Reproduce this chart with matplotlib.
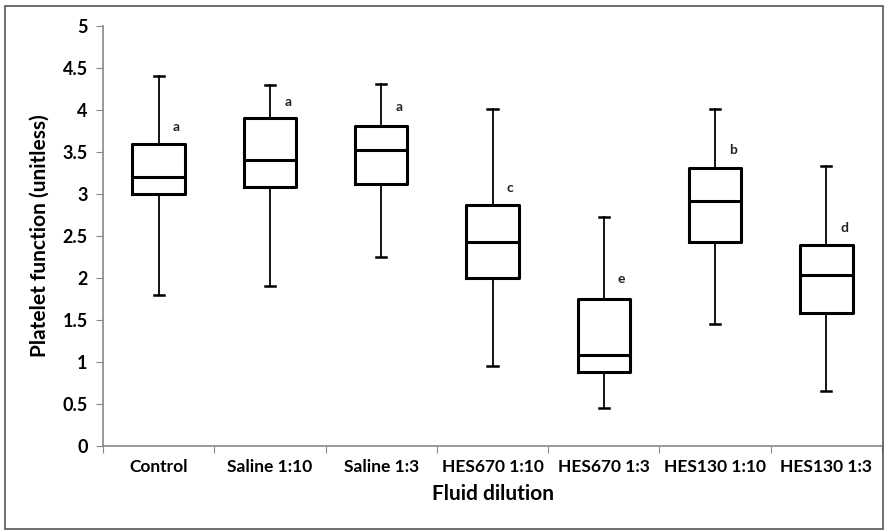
import matplotlib

matplotlib.use("Agg")
import matplotlib.pyplot as plt  # noqa: E402
from matplotlib.patches import Rectangle  # noqa: E402

plt.rcParams["font.family"] = ["Lato", "DejaVu Sans"]

# Box summaries (min, Q1, median, Q3, max)
groups = ["Control", "Saline 1:10", "Saline 1:3", "HES670 1:10",
          "HES670 1:3", "HES130 1:10", "HES130 1:3"]
mins = [1.80, 1.90, 2.25, 0.95, 0.45, 1.45, 0.65]
q1 = [3.00, 3.08, 3.12, 2.00, 0.88, 2.43, 1.58]
medians = [3.20, 3.40, 3.52, 2.43, 1.08, 2.92, 2.03]
q3 = [3.60, 3.90, 3.81, 2.87, 1.75, 3.31, 2.39]
maxs = [4.40, 4.30, 4.31, 4.01, 2.73, 4.01, 3.33]
letters = ["a", "a", "a", "c", "e", "b", "d"]
letter_y = [3.80, 4.10, 4.04, 3.07, 1.99, 3.52, 2.60]

stats = []
for i, name in enumerate(groups):
    stats.append({"label": name, "whislo": mins[i], "q1": q1[i],
                  "med": medians[i], "q3": q3[i], "whishi": maxs[i],
                  "fliers": []})

fig = plt.figure(figsize=(8.88, 5.31), dpi=100)
ax = fig.add_axes([103 / 888, 1 - 446 / 531, 779 / 888, 420 / 531])

pos = [i + 0.5 for i in range(len(groups))]
ax.bxp(stats, positions=pos, widths=0.47, showfliers=False,
       boxprops=dict(color="black", linewidth=2.2),
       medianprops=dict(color="black", linewidth=2.2),
       whiskerprops=dict(color="black", linewidth=1.3),
       capprops=dict(color="black", linewidth=1.8),
       capwidths=0.09)

for p, lab, ly in zip(pos, letters, letter_y):
    ax.text(p + 0.16, ly, lab, ha="center", va="center", fontsize=10,
            fontweight="bold", color="#222222")

ax.set_xlim(0, len(groups))
ax.set_ylim(0, 5)
ax.set_yticks([0, 0.5, 1, 1.5, 2, 2.5, 3, 3.5, 4, 4.5, 5])
ax.set_yticklabels(["0", "0.5", "1", "1.5", "2", "2.5", "3", "3.5", "4",
                    "4.5", "5"], fontsize=13, fontweight="bold")
ax.set_xticks(range(len(groups) + 1))
ax.set_xticklabels([])
ax.set_xticks(pos, minor=True)
ax.set_xticklabels(groups, minor=True, fontsize=12.5, fontweight="bold")
ax.tick_params(axis="x", which="minor", length=0, pad=9)
ax.tick_params(axis="x", which="major", length=5, color="#888888")
ax.tick_params(axis="y", length=5, color="#888888", pad=6)

for side in ("top", "right"):
    ax.spines[side].set_visible(False)
for side in ("left", "bottom"):
    ax.spines[side].set_color("#888888")
    ax.spines[side].set_linewidth(1.2)

ax.set_xlabel("Fluid dilution", fontsize=15, fontweight="bold", labelpad=7)
ax.set_ylabel("Platelet function (unitless)", fontsize=15,
              fontweight="bold", labelpad=9)

# Thin frame around the whole chart area
fig.patches.append(Rectangle((5 / 888, 2 / 531), 878 / 888, 523 / 531,
                             transform=fig.transFigure, fill=False,
                             edgecolor="#555555", linewidth=1.2))

fig.savefig("out.png", dpi=100)
